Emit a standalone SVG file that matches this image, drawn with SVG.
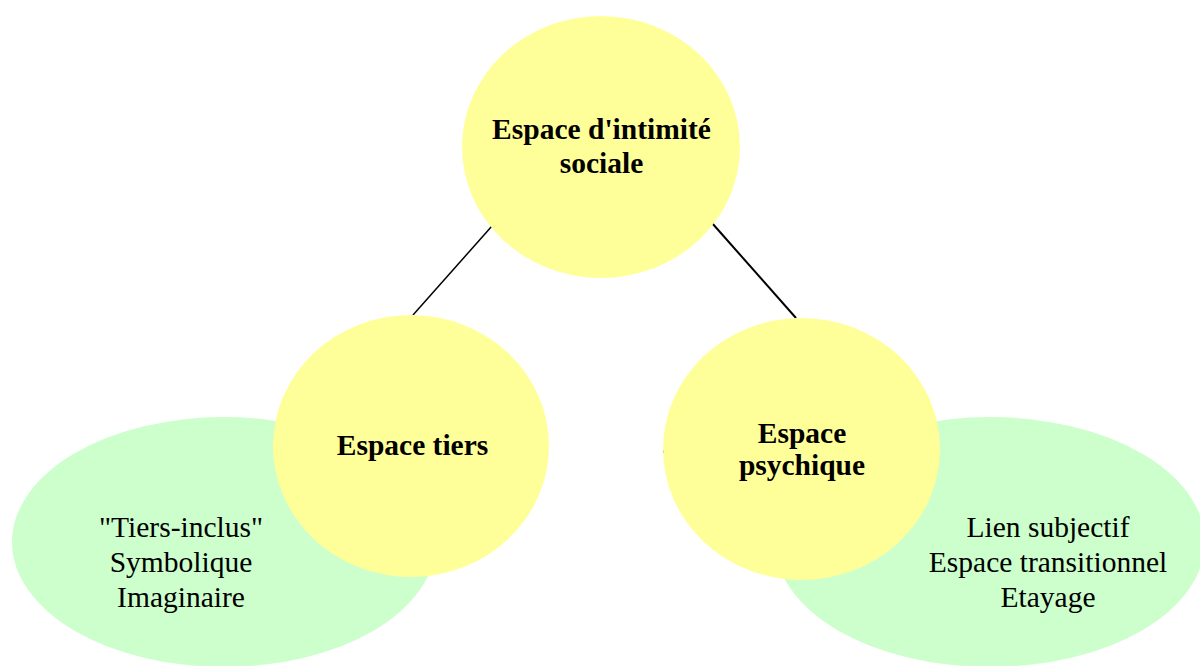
<svg xmlns="http://www.w3.org/2000/svg" width="1200" height="666" viewBox="0 0 1200 666">
  <style>
    .green { fill: #CCFFCC; }
    .yellow { fill: #FFFF99; }
    .title { font-family: "Liberation Serif", "Times New Roman", serif; font-size: 29.5px; font-weight: bold; fill: #000; text-anchor: middle; }
    .body { font-family: "Liberation Serif", "Times New Roman", serif; font-size: 29.5px; fill: #000; text-anchor: middle; }
    .conn { stroke: #000; fill: none; }
  </style>
  <rect width="1200" height="666" fill="#FFFFFF"/>
  <g id="ellipse-left">
    <ellipse class="green" cx="224" cy="542" rx="212" ry="125"/>
    <text class="body" x="181" y="537">"Tiers-inclus"</text>
    <text class="body" x="181" y="572">Symbolique</text>
    <text class="body" x="181" y="607">Imaginaire</text>
  </g>
  <g id="ellipse-right">
    <ellipse class="green" cx="990" cy="542" rx="215" ry="125"/>
    <text class="body" x="1048" y="537">Lien subjectif</text>
    <text class="body" x="1048" y="572">Espace transitionnel</text>
    <text class="body" x="1048" y="607">Etayage</text>
  </g>
  <g id="connectors">
    <line class="conn" x1="413" y1="315" x2="492" y2="226" stroke-width="1.5"/>
    <line class="conn" x1="712" y1="223" x2="796" y2="318" stroke-width="2"/>
    <line class="conn" x1="663.5" y1="449" x2="663.5" y2="453" stroke-width="1" stroke="#555"/>
  </g>
  <g id="node-top">
    <ellipse class="yellow" cx="601" cy="147" rx="139" ry="131"/>
    <text class="title" x="601.5" y="139">Espace d'intimité</text>
    <text class="title" x="601.5" y="173">sociale</text>
  </g>
  <g id="node-tiers">
    <ellipse class="yellow" cx="411" cy="446" rx="138" ry="131"/>
    <text class="title" x="412.5" y="455">Espace tiers</text>
  </g>
  <g id="node-psychique">
    <ellipse class="yellow" cx="801.5" cy="449" rx="138.5" ry="131"/>
    <text class="title" x="802" y="443">Espace</text>
    <text class="title" x="802" y="475">psychique</text>
  </g>
</svg>
